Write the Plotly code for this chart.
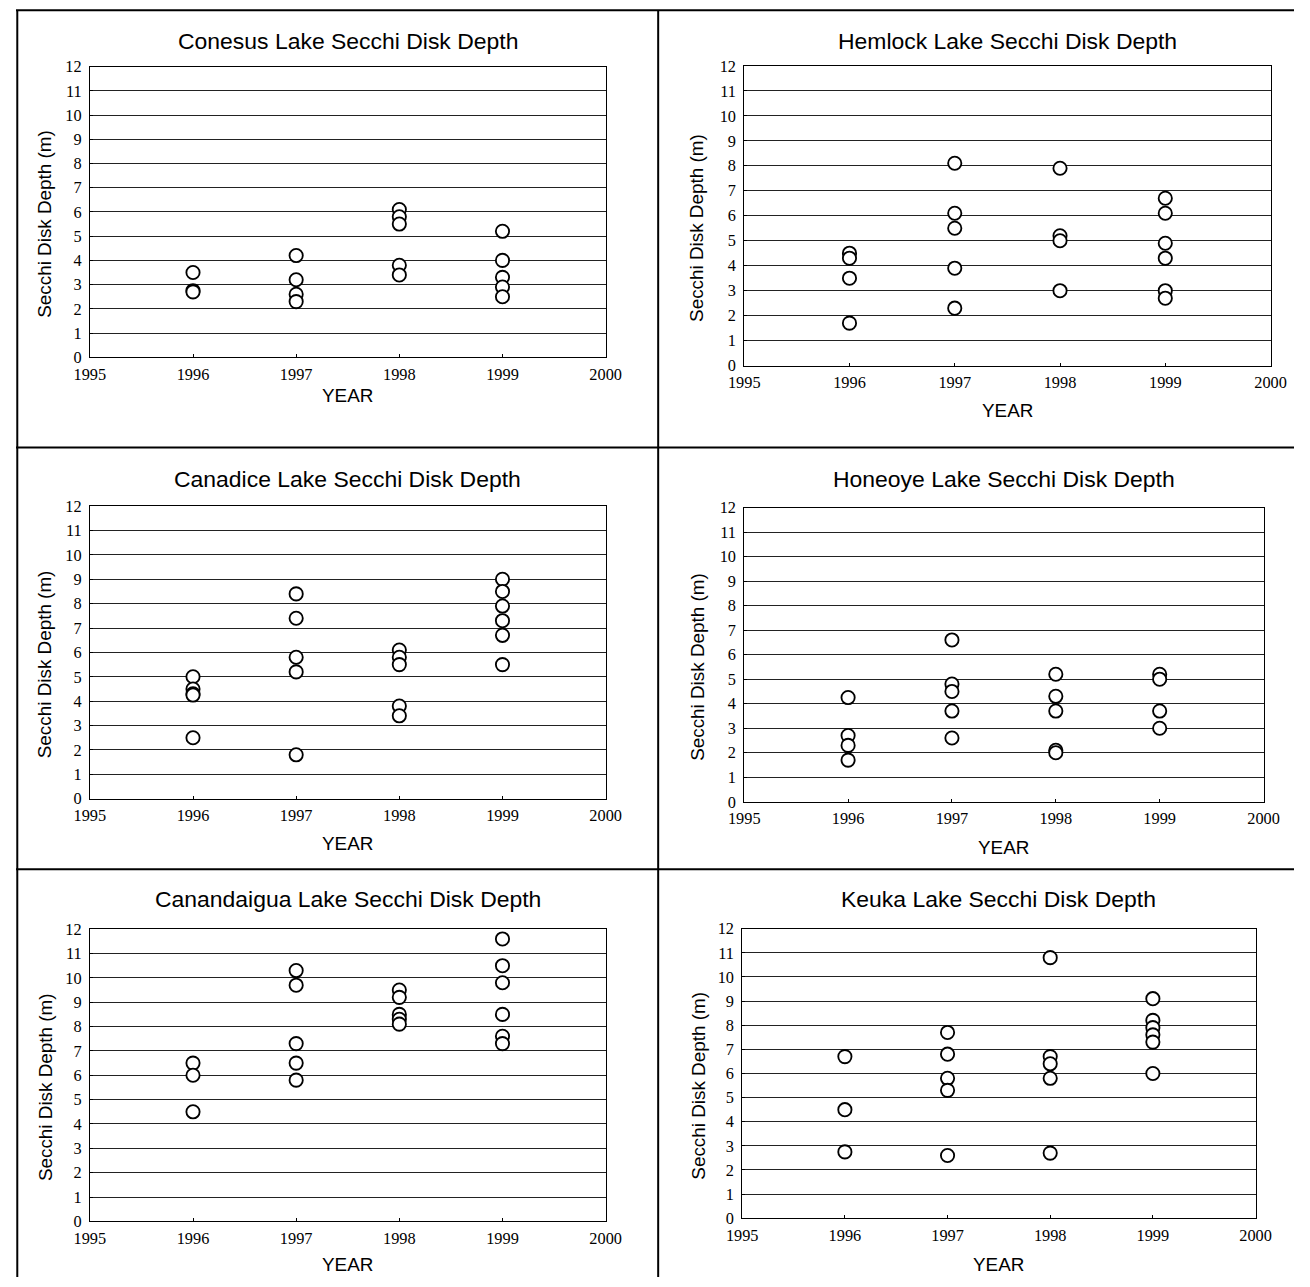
import plotly.graph_objects as go

W, H = 1310, 1287

# the returned picture maps page pixels p to picture pixels A + B*p;
# targets below are given in picture pixels and mapped back to page pixels
AX, BX = 16.2, 0.975
AY, BY = 8.1, 0.986
S = 1 / ((BX + BY) / 2)  # size compensation

lakes = ["Conesus", "Hemlock", "Canadice", "Honeoye", "Canandaigua", "Keuka"]
titles = [f"{n} Lake Secchi Disk Depth" for n in lakes]

years = [1996, 1997, 1998, 1999]

conesus = {1996: [3.5, 2.75, 2.7], 1997: [4.2, 3.2, 2.6, 2.3],
           1998: [6.1, 5.8, 5.5, 3.8, 3.4], 1999: [5.2, 4.0, 3.3, 2.9, 2.5]}
hemlock = {1996: [4.5, 4.3, 3.5, 1.7], 1997: [8.1, 6.1, 5.5, 3.9, 2.3],
           1998: [7.9, 5.2, 5.0, 3.0], 1999: [6.7, 6.1, 4.9, 4.3, 3.0, 2.7]}
canadice = {1996: [5.0, 4.5, 4.3, 4.25, 2.5], 1997: [8.4, 7.4, 5.8, 5.2, 1.8],
            1998: [6.1, 5.8, 5.5, 3.8, 3.4], 1999: [9.0, 8.5, 7.9, 7.3, 6.7, 5.5]}
honeoye = {1996: [4.25, 2.7, 2.3, 1.7], 1997: [6.6, 4.8, 4.5, 3.7, 2.6],
           1998: [5.2, 4.3, 3.7, 2.1, 2.0], 1999: [5.2, 5.0, 3.7, 3.0]}
canandaigua = {1996: [6.5, 6.0, 4.5], 1997: [10.3, 9.7, 7.3, 6.5, 5.8],
               1998: [9.5, 9.2, 8.5, 8.3, 8.1], 1999: [11.6, 10.5, 9.8, 8.5, 7.6, 7.3]}
keuka = {1996: [6.7, 4.5, 2.75], 1997: [7.7, 6.8, 5.8, 5.3, 2.6],
         1998: [10.8, 6.7, 6.4, 5.8, 2.7], 1999: [9.1, 8.2, 7.9, 7.6, 7.3, 6.0]}

datasets = [conesus, hemlock, canadice, honeoye, canandaigua, keuka]

x_ticks = [1995, 1996, 1997, 1998, 1999, 2000]
y_ticks = list(range(0, 13))

# plot-area boxes in picture pixels: (left, right, top, bottom)
boxes = [
    (90, 605.5, 65.7, 356.7),
    (744, 1270, 65, 365),
    (90, 605.5, 505.6, 798.4),
    (744, 1263, 507, 801.5),
    (90, 605.5, 929, 1221.4),
    (742, 1255, 928.5, 1218.3),
]
title_y = [40, 40, 478, 478, 899, 899]
xtitle_y = [395, 410, 843, 847, 1265, 1265]
ytitle_x = [45, 697, 45, 697, 45, 698]
ytitle_shift = 12


def page_x(X):
    return (X - AX) / BX


def page_y(Y):
    return (Y - AY) / BY


def px_x(X):
    return min(max(page_x(X), 0), W) / W


def px_y(Y):
    return 1 - min(max(page_y(Y), 0), H) / H


fig = go.Figure()
annotations = []
layout_axes = {}

for i, (data, box) in enumerate(zip(datasets, boxes)):
    n = i + 1
    xa = "x" if n == 1 else f"x{n}"
    ya = "y" if n == 1 else f"y{n}"
    xs, ys = [], []
    for yr in years:
        for v in data[yr]:
            xs.append(yr)
            ys.append(v)
    fig.add_trace(go.Scatter(
        x=xs, y=ys, mode="markers", xaxis=xa, yaxis=ya, showlegend=False,
        marker=dict(symbol="circle", size=13 * S, color="white",
                    line=dict(color="black", width=1.8 * S)),
        cliponaxis=False,
    ))
    l, r, t, b = box
    xdom = [px_x(l), px_x(r)]
    ydom = [px_y(b), px_y(t)]
    common = dict(showline=True, mirror=True, linecolor="black", linewidth=1,
                  ticks="inside", ticklen=3, tickcolor="black", zeroline=False,
                  tickfont=dict(family="Liberation Serif", size=16 * S, color="black"))
    layout_axes[f"xaxis{'' if n == 1 else n}"] = dict(
        domain=xdom, anchor=ya, range=[1995, 2000], tickvals=x_ticks,
        ticktext=[str(v) for v in x_ticks], showgrid=False,
        ticklabelstandoff=2, **common)
    layout_axes[f"yaxis{'' if n == 1 else n}"] = dict(
        domain=ydom, anchor=xa, range=[0, 12], tickvals=y_ticks,
        showgrid=True, gridcolor="#222222", gridwidth=1,
        ticklabelstandoff=4, **common)
    cx = (l + r) / 2
    annotations.append(dict(text=titles[i], x=px_x(cx), y=px_y(title_y[i]),
                            xref="paper", yref="paper", showarrow=False,
                            xanchor="center", yanchor="middle",
                            font=dict(family="Liberation Sans", size=22.5 * S, color="black")))
    annotations.append(dict(text="YEAR", x=px_x(cx), y=px_y(xtitle_y[i]),
                            xref="paper", yref="paper", showarrow=False,
                            xanchor="center", yanchor="middle",
                            font=dict(family="Liberation Sans", size=18.5 * S, color="black")))
    annotations.append(dict(text="Secchi Disk Depth (m)", x=px_x(ytitle_x[i]),
                            y=px_y((t + b) / 2 + ytitle_shift), textangle=-90,
                            xref="paper", yref="paper", showarrow=False,
                            xanchor="center", yanchor="middle",
                            font=dict(family="Liberation Sans", size=18.5 * S, color="black")))

# panel separators
shapes = []


def hline(Y):
    y = min(max(px_y(Y), 0.001), 0.999)
    shapes.append(dict(type="line", xref="paper", yref="paper", x0=0, x1=1,
                       y0=y, y1=y, line=dict(color="black", width=2)))


def vline(X):
    x = min(max(px_x(X), 0.001), 0.999)
    shapes.append(dict(type="line", xref="paper", yref="paper", x0=x, x1=x,
                       y0=0, y1=0.999, line=dict(color="black", width=2)))


for Y in [4, 447, 869]:
    hline(Y)
for X in [5, 658]:
    vline(X)

fig.update_layout(
    width=W, height=H, margin=dict(l=0, r=0, t=0, b=0, pad=0),
    paper_bgcolor="white", plot_bgcolor="white",
    annotations=annotations, shapes=shapes, showlegend=False,
    **layout_axes,
)

fig.write_html("out.html", config={"displayModeBar": False},
               post_script="document.body.style.margin='0';document.body.style.overflow='hidden';")
